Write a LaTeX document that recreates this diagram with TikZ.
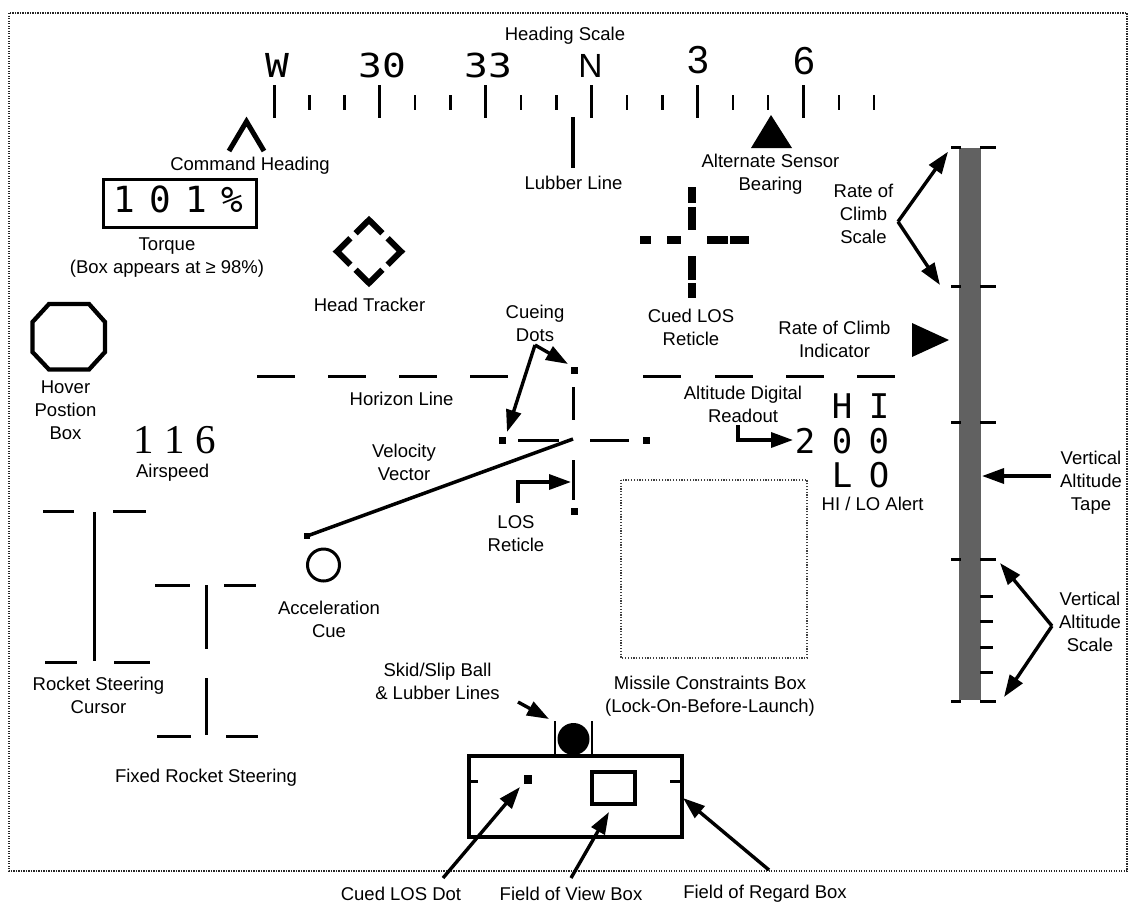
\documentclass[tikz,border=0pt]{standalone}
\usepackage{fontspec}
\setmainfont{Liberation Sans}
\newfontfamily\dmono{DejaVu Sans Mono}
\newfontfamily\lserif{Liberation Serif}
\usetikzlibrary{arrows.meta,calc}
\newcommand\widen[1]{\scalebox{1.2}[1]{#1}}
\tikzset{
  lab/.style={font={\fontsize{18.5}{23}\selectfont}, align=center, inner sep=0pt},
  arr/.style={line width=3.4pt, -{Triangle[length=22pt,width=15pt]}},
  hmono/.style={font={\dmono\fontsize{33}{33}\selectfont}, inner sep=0pt, anchor=base},
  hsans/.style={font={\fontsize{33.5}{33}\selectfont}, inner sep=0pt, anchor=base},
  hdig/.style={font={\fontsize{39}{39}\selectfont}, inner sep=0pt, anchor=base},
  bigmono/.style={font={\dmono\fontsize{34}{34}\selectfont}, inner sep=0pt, anchor=base west},
  majortick/.style={line width=3pt},
  minortick/.style={line width=2.5pt},
  stroke3/.style={line width=3pt},
  framebox/.style={line width=1.3pt, dash pattern=on 1.3pt off 1.2pt, black!85},
  mcbox/.style={line width=1.2pt, dash pattern=on 1.2pt off 1.6pt, black!75},
  reticle/.style={line width=8pt},
  tapefill/.style={fill=black!62},
  chev/.style={line width=6pt, line join=miter},
}
\begin{document}
\begin{tikzpicture}[x=1pt,y=-1pt]
\useasboundingbox (0,0) rectangle (1130,903);
\draw[framebox] (9,13) rectangle (1127,871);

% ---------- heading scale ----------
\node[lab] (hslab) at (565,36) {Heading Scale};
\foreach \i in {0,...,5} {
  \draw[majortick] ({274+105.9*\i},85) -- ++(0,33);
  \foreach \j in {1,2} {
    \draw[minortick] ({274+105.9*\i+35.3*\j},95) -- ++(0,15);
  }
}
\node[hmono] (hW) at (277,77) {\widen{W}};
\node[hmono] (h30) at (382,77) {\widen{30}};
\node[hmono] (h33) at (488,77) {\widen{33}};
\node[hsans] (hN) at (590.5,77) {N};
\node[hdig] (h3) at (698,73) {3};
\node[hdig] (h6) at (804,74) {6};

% lubber line
\draw[line width=4.3pt] (573,117) -- (573,168);
\node[lab] (lubl) at (573.5,183) {Lubber Line};

% command heading
\draw[line width=5pt, line join=miter] (229,151) -- (246.5,121.5) -- (264,151);
\node[lab] (cmdl) at (250,165.5) {Command Heading};

% torque
\node[draw, line width=3.2pt, minimum width=153pt, minimum height=48pt, inner sep=0pt] (tqbox) at (180,203.5) {};
\node[font={\dmono\fontsize{36}{36}\selectfont}, inner sep=0pt, anchor=base] (tqtxt) at (178,212.3) {1\kern14.3pt0\kern14.3pt1\kern14.3pt\%};
\node[lab] (tql) at (167,258) {Torque\\(Box appears at ≥ 98\%)};

% head tracker
\coordinate (htT) at (369,220);
\coordinate (htB) at (369,283);
\coordinate (htL) at (337,251.5);
\coordinate (htR) at (401,251.5);
\draw[chev] ($(htT)!0.42!(htL)$) -- (htT) -- ($(htT)!0.42!(htR)$);
\draw[chev] ($(htB)!0.42!(htL)$) -- (htB) -- ($(htB)!0.42!(htR)$);
\draw[chev] ($(htL)!0.42!(htT)$) -- (htL) -- ($(htL)!0.42!(htB)$);
\draw[chev] ($(htR)!0.42!(htT)$) -- (htR) -- ($(htR)!0.42!(htB)$);
\node[lab] (htl) at (369.5,305) {Head Tracker};

% alternate sensor bearing
\fill (751,148) -- (771,115) -- (792,148) -- cycle;
\node[lab] (asl) at (770.5,174.2) {Alternate Sensor\\Bearing};

% cued LOS reticle
\draw[reticle] (640,240) -- (651,240);
\draw[reticle] (667,240) -- (681,240);
\draw[reticle] (707,240) -- (728,240);
\draw[reticle] (730,240) -- (749,240);
\draw[reticle] (692,187) -- (692,203);
\draw[reticle] (692,207) -- (692,230);
\draw[reticle] (692,256) -- (692,280);
\draw[reticle] (692,283) -- (692,298);
\node[lab] (clrl) at (691,327.5) {Cued LOS\\Reticle};

% rate of climb scale
\node[lab] (rcsl) at (863.5,214.2) {Rate of\\Climb\\Scale};
\coordinate (rcsv) at (898,221.7);
\coordinate (rcst) at (948,151.7);
\coordinate (rcsb) at (940,285);
\draw[arr] (rcsv) -- (rcst);
\draw[arr] (rcsv) -- (rcsb);

% vertical tape
\fill[tapefill] (959,148) rectangle (981,700);
\foreach \y in {147.5,286,422.5,559,701} {
  \draw[stroke3] (951,\y) -- (961,\y);
  \draw[stroke3] (980,\y) -- (996,\y);
}
\foreach \y in {596,621,647,672} {
  \draw[stroke3] (980,\y) -- (993,\y);
}

% rate of climb indicator
\fill (912,323) -- (949,340) -- (912,357) -- cycle;
\node[lab] (rcil) at (834.5,339) {Rate of Climb\\Indicator};

% horizon line
\foreach \a in {257,328,399,470,643,715,786,857} {
  \draw[stroke3] (\a,376) -- ++(38,0);
}
\node[lab] (hzl) at (401.6,399) {Horizon Line};

% LOS reticle
\draw[stroke3] (518,440) -- (559,440);
\draw[stroke3] (590,440) -- (629,440);
\draw[stroke3] (573,387) -- (573,420);
\draw[stroke3] (573,460) -- (573,500);
\fill (498.5,436.5) rectangle ++(7,7);
\fill (642.5,436.5) rectangle ++(7,7);
\fill (571,366.5) rectangle ++(7,7);
\fill (571,507.5) rectangle ++(7,7);

% velocity vector
\coordinate (vvs) at (573,439);
\coordinate (vve) at (307,536);
\draw[line width=3.5pt] (vvs) -- (vve);
\fill (304,533) rectangle ++(6,6);
\node[lab] (vvl) at (404,462) {Velocity\\Vector};

% cueing dots
\node[lab] (cdl) at (535,323.3) {Cueing\\Dots};
\coordinate (cdv) at (535,345);
\coordinate (cdt1) at (568,364);
\coordinate (cdt2) at (507,432);
\draw[arr] (cdv) -- (cdt1);
\draw[arr] (cdv) -- (cdt2);

% LOS reticle label
\node[lab] (losl) at (516,534) {LOS\\Reticle};
\coordinate (loss) at (518,503);
\coordinate (lost) at (571,482);
\draw[arr] (loss) |- (lost);

% altitude digital readout
\node[lab] (adrl) at (743,404) {Altitude Digital\\Readout};
\coordinate (adrs) at (738,425);
\coordinate (adrt) at (793,440);
\draw[arr] (adrs) |- (adrt);
\node[bigmono] (hi) at (831.6,418) {H\kern16.5pt I};
\node[bigmono] (alt) at (794.6,453) {2\kern16.5pt0\kern16.5pt0};
\node[bigmono] (lo) at (831.6,487) {L\kern16.5pt O};
\node[lab] (hlal) at (872.6,504) {HI / LO Alert};

% missile constraints box
\draw[mcbox] (621,480) rectangle (807,658);
\node[lab] (mcbl) at (710,696) {Missile Constraints Box\\(Lock-On-Before-Launch)};

% field of regard box
\draw[line width=3.5pt] (469,756) rectangle (682,837);
\draw[stroke3] (469,781.5) -- (478,781.5);
\draw[stroke3] (670,781.5) -- (682,781.5);
\fill (523.5,774.5) rectangle ++(8,9);
\draw[line width=3.5pt] (592,772) rectangle (635,804);
\fill (573.5,739) circle (16);
\draw[line width=2.5pt] (555,721) -- (555,756);
\draw[line width=2.5pt] (592,721) -- (592,756);

\node[lab] (ssl) at (437.5,681) {Skid/Slip Ball\\\& Lubber Lines};
\coordinate (sss) at (518,702);
\coordinate (sst) at (549,719);
\draw[arr] (sss) -- (sst);

\node[lab] (cldl) at (401,894) {Cued LOS Dot};
\node[lab] (fovl) at (571,894) {Field of View Box};
\node[lab] (forl) at (765,894) {Field of Regard Box};
\coordinate (clds) at (443,878);
\coordinate (cldt) at (520,787);
\coordinate (fovs) at (571,878);
\coordinate (fovt) at (609,812);
\coordinate (fors) at (769,870);
\coordinate (fort) at (683,798);
\draw[arr] (clds) -- (cldt);
\draw[arr] (fovs) -- (fovt);
\draw[arr] (fors) -- (fort);

% hover position box
\draw[line width=4.3pt, line join=miter] (49,304) -- (89,304) -- (105,322) -- (105,352) -- (89,369.5) -- (49,369.5) -- (32.5,352) -- (32.5,322) -- cycle;
\node[lab] (hpl) at (65.5,410.7) {Hover\\Postion\\Box};

% airspeed
\node[font={\lserif\fontsize{41}{41}\selectfont}, inner sep=0pt, anchor=base] (asp) at (174.5,453) {1 1 6};
\node[lab] (aspl) at (172.6,473) {Airspeed};

% acceleration cue
\draw[stroke3] (323.5,565) circle (16);
\node[lab] (acl) at (329,619) {Acceleration\\Cue};

% rocket steering cursor
\draw[stroke3] (94.6,512) -- (94.6,661);
\draw[stroke3] (43,511) -- (74,511);
\draw[stroke3] (113,511) -- (146,511);
\draw[stroke3] (45,662) -- (77,662);
\draw[stroke3] (114,662) -- (150,662);
\node[lab] (rscl) at (98.5,695) {Rocket Steering\\Cursor};

% fixed rocket steering
\draw[stroke3] (206.5,585) -- (206.5,649);
\draw[stroke3] (206.5,678) -- (206.5,735);
\draw[stroke3] (155,585) -- (190,585);
\draw[stroke3] (224,585) -- (256,585);
\draw[stroke3] (157,736) -- (191,736);
\draw[stroke3] (226,736) -- (258,736);
\node[lab] (frsl) at (206,777.7) {Fixed Rocket Steering};

% vertical altitude tape / scale
\node[lab] (vatl) at (1091,482.5) {Vertical\\Altitude\\Tape};
\coordinate (vats) at (1051,476);
\coordinate (vatt) at (982,476);
\draw[arr] (vats) -- (vatt);
\node[lab] (vasl) at (1090,622) {Vertical\\Altitude\\Scale};
\coordinate (vasv) at (1052,626);
\coordinate (vast1) at (1000,563);
\coordinate (vast2) at (1004,697);
\draw[arr] (vasv) -- (vast1);
\draw[arr] (vasv) -- (vast2);
\end{tikzpicture}
\end{document}
